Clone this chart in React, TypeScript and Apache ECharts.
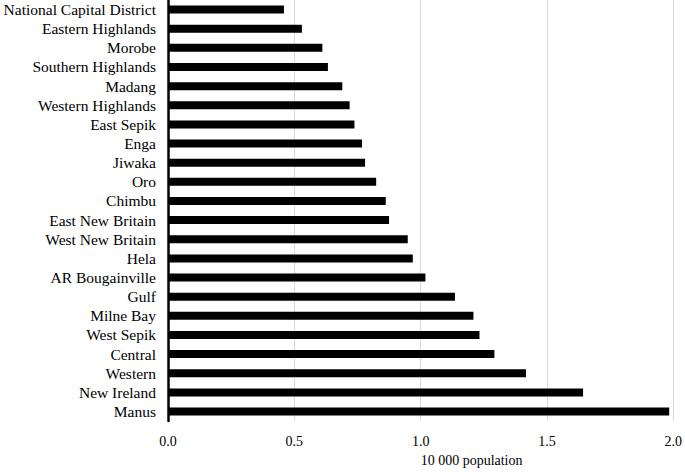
import React, { useEffect, useRef } from "react";
import * as echarts from "echarts";

const categories = [
  "National Capital District",
  "Eastern Highlands",
  "Morobe",
  "Southern Highlands",
  "Madang",
  "Western Highlands",
  "East Sepik",
  "Enga",
  "Jiwaka",
  "Oro",
  "Chimbu",
  "East New Britain",
  "West New Britain",
  "Hela",
  "AR Bougainville",
  "Gulf",
  "Milne Bay",
  "West Sepik",
  "Central",
  "Western",
  "New Ireland",
  "Manus",
];

const values = [
  0.459, 0.53, 0.611, 0.633, 0.69, 0.719, 0.738, 0.768, 0.78, 0.824, 0.862,
  0.875, 0.949, 0.969, 1.019, 1.136, 1.209, 1.233, 1.292, 1.417, 1.643, 1.984,
];

const xAxisName = "10 000 population";

export default function App() {
  const ref = useRef<HTMLDivElement>(null);
  useEffect(() => {
    if (!ref.current) return;
    const chart = echarts.init(ref.current, null, { renderer: "svg" });
    const font = "'Liberation Serif', 'Times New Roman', serif";
    chart.setOption({
      animation: false,
      backgroundColor: "#ffffff",
      grid: { left: 168, right: 9, top: 0, bottom: 41, containLabel: false },
      xAxis: {
        type: "value",
        min: 0,
        max: 2,
        interval: 0.5,
        name: xAxisName,
        nameLocation: "middle",
        nameGap: 26,
        nameTextStyle: { fontFamily: font, fontSize: 14, color: "#000", align: "left" },
        axisLine: { show: false },
        axisTick: { show: false },
        axisLabel: {
          fontFamily: font,
          fontSize: 14,
          color: "#000",
          margin: 13,
          formatter: (v: number) => v.toFixed(1),
        },
        splitLine: { show: true, lineStyle: { color: "#d9d9d9", width: 1 } },
      },
      yAxis: {
        type: "category",
        data: categories,
        inverse: true,
        axisLine: { show: true, lineStyle: { color: "#000", width: 2.5 } },
        axisTick: { show: false },
        axisLabel: { fontFamily: font, fontSize: 15.5, color: "#000", margin: 12, interval: 0 },
      },
      series: [
        {
          type: "bar",
          data: values,
          barWidth: 8,
          itemStyle: { color: "#000" },
        },
      ],
    });
    return () => chart.dispose();
  }, []);
  return (
    <div
      ref={ref}
      style={{ position: "fixed", left: 0, top: 0, width: 685, height: 472 }}
    />
  );
}
